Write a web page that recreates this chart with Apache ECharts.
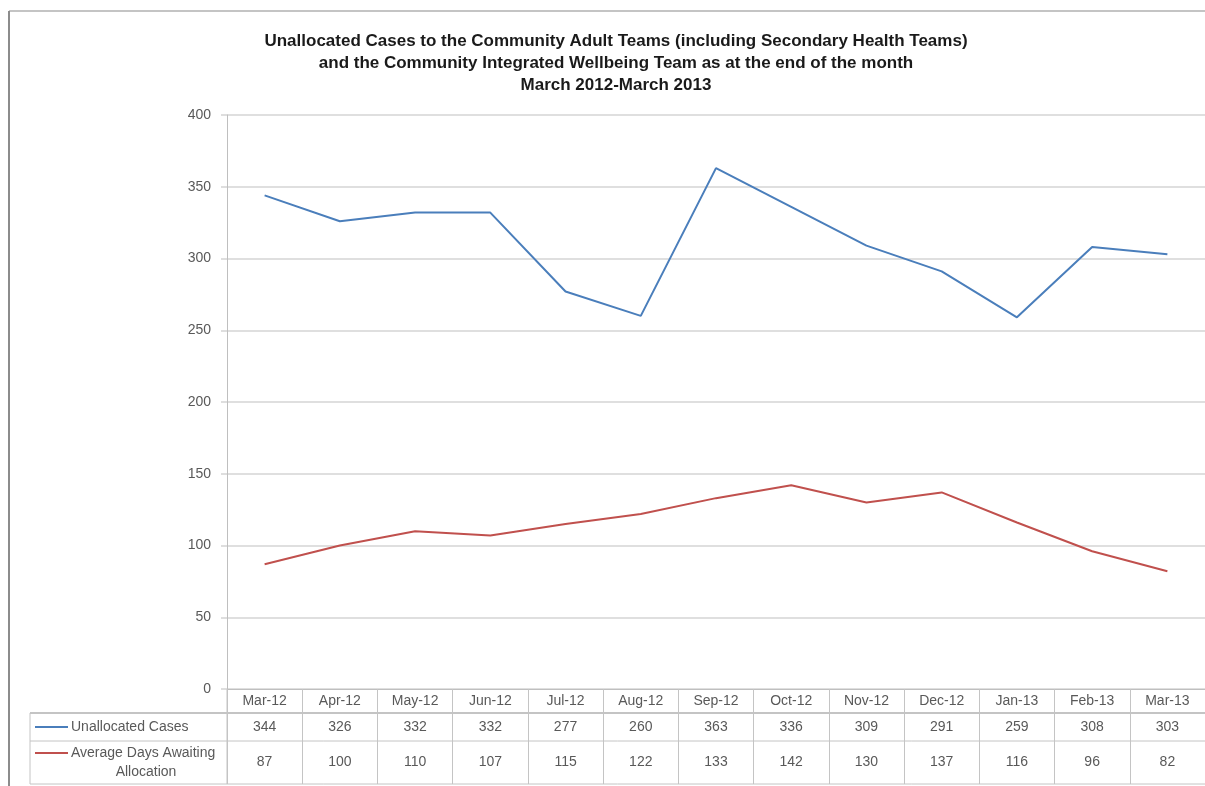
<!DOCTYPE html>
<html>
<head>
<meta charset="utf-8">
<script src="https://cdn.jsdelivr.net/npm/echarts@6/dist/echarts.min.js"></script>
<style>
  html, body { margin: 0; padding: 0; background: #ffffff; }
  #chart { width: 1205px; height: 786px; }
</style>
</head>
<body>
<div id="chart"></div>
<script>
// Monthly figures, March 2012 to March 2013
const months = ['Mar-12', 'Apr-12', 'May-12', 'Jun-12', 'Jul-12', 'Aug-12', 'Sep-12',
                'Oct-12', 'Nov-12', 'Dec-12', 'Jan-13', 'Feb-13', 'Mar-13'];
const unallocatedCases = [344, 326, 332, 332, 277, 260, 363, 336, 309, 291, 259, 308, 303];
const avgDaysAwaiting = [87, 100, 110, 107, 115, 122, 133, 142, 130, 137, 116, 96, 82];
const seriesNames = ['Unallocated Cases', 'Average Days Awaiting Allocation'];
const valueAxisTicks = [0, 50, 100, 150, 200, 250, 300, 350, 400];
const titleLines = [
  'Unallocated Cases to the Community Adult Teams (including Secondary Health Teams)',
  'and the Community Integrated Wellbeing Team as at the end of the month',
  'March 2012-March 2013'
];

const FONT = '"Liberation Sans", Arial, sans-serif';
const BLUE = '#4a7ebb';
const RED = '#c0504d';
const GRID_GREY = '#d4d4d4';
const TABLE_GREY = '#c4c4c4';
const TEXT_GREY = '#595959';

// heights of the data-table rows under the category axis
const ROW_HEAD = 24, ROW_ONE = 28, ROW_TWO = 43;
const TABLE_LEFT = 30;

const chart = echarts.init(document.getElementById('chart'), null, { renderer: 'canvas' });

chart.setOption({
  animation: false,
  backgroundColor: '#ffffff',
  title: {
    text: titleLines.join('\n'),
    left: 611,
    top: 25,
    textAlign: 'center',
    textStyle: {
      fontFamily: FONT,
      fontSize: 17,
      fontWeight: 'bold',
      color: '#1a1a1a',
      lineHeight: 22
    }
  },
  grid: { left: 227, top: 115, right: -9, bottom: 97, containLabel: false },
  xAxis: {
    type: 'category',
    data: months,
    boundaryGap: true,
    axisLine: { show: true, lineStyle: { color: '#bfbfbf', width: 1 } },
    axisTick: {
      show: true,
      inside: false,
      length: ROW_HEAD + ROW_ONE + ROW_TWO,
      interval: 0,
      lineStyle: { color: TABLE_GREY, width: 1 }
    },
    axisLabel: {
      interval: 0,
      margin: 0,
      fontFamily: FONT,
      color: TEXT_GREY,
      formatter: function (value, idx) {
        return '{c|' + value + '}\n{a|' + unallocatedCases[idx] + '}\n{b|' + avgDaysAwaiting[idx] + '}';
      },
      rich: {
        c: { fontFamily: FONT, fontSize: 14, color: TEXT_GREY, lineHeight: ROW_HEAD },
        a: { fontFamily: FONT, fontSize: 14, color: TEXT_GREY, lineHeight: ROW_ONE },
        b: { fontFamily: FONT, fontSize: 14, color: TEXT_GREY, lineHeight: ROW_TWO }
      }
    },
    splitLine: { show: false }
  },
  yAxis: {
    type: 'value',
    min: valueAxisTicks[0],
    max: valueAxisTicks[valueAxisTicks.length - 1],
    interval: valueAxisTicks[1] - valueAxisTicks[0],
    axisLine: { show: true, lineStyle: { color: '#bfbfbf', width: 1 } },
    axisTick: { show: true, length: 6, lineStyle: { color: GRID_GREY, width: 1.5 } },
    axisLabel: { margin: 16, fontFamily: FONT, fontSize: 14, color: TEXT_GREY },
    splitLine: { show: true, lineStyle: { color: GRID_GREY, width: 1.5 } }
  },
  series: [
    {
      name: seriesNames[0],
      type: 'line',
      data: unallocatedCases,
      symbol: 'none',
      lineStyle: { color: BLUE, width: 2 },
      itemStyle: { color: BLUE }
    },
    {
      name: seriesNames[1],
      type: 'line',
      data: avgDaysAwaiting,
      symbol: 'none',
      lineStyle: { color: RED, width: 2 },
      itemStyle: { color: RED }
    }
  ]
});

// Table frame, row headers and the outer border, placed from the axes' own pixel scale
function drawTableDecor() {
  const y0 = chart.convertToPixel({ yAxisIndex: 0 }, 0);
  const xFirst = chart.convertToPixel({ xAxisIndex: 0 }, months[0]);
  const xSecond = chart.convertToPixel({ xAxisIndex: 0 }, months[1]);
  const band = xSecond - xFirst;
  const xLeftAxis = xFirst - band / 2;
  const xRight = chart.convertToPixel({ xAxisIndex: 0 }, months[months.length - 1]) + band / 2;

  const yRow1 = y0 + ROW_HEAD;
  const yRow2 = yRow1 + ROW_ONE;
  const yEnd = yRow2 + ROW_TWO;
  const hline = (y, w) => ({
    type: 'line', silent: true,
    shape: { x1: TABLE_LEFT, y1: y, x2: xRight, y2: y },
    style: { stroke: TABLE_GREY, lineWidth: w || 1 }
  });

  const keyX1 = TABLE_LEFT + 5, keyX2 = TABLE_LEFT + 38, labelX = TABLE_LEFT + 41;
  const row1Mid = yRow1 + ROW_ONE / 2;
  const row2Top = yRow2 + 12;
  const labelStyle = { fontFamily: FONT, fontSize: 14, fill: TEXT_GREY };

  chart.setOption({
    graphic: [
      // outer border
      { type: 'line', silent: true, shape: { x1: 9, y1: 11, x2: 1205, y2: 11 }, style: { stroke: '#b0b0b0', lineWidth: 1.5 } },
      { type: 'line', silent: true, shape: { x1: 9, y1: 11, x2: 9, y2: 786 }, style: { stroke: '#8c8c8c', lineWidth: 2 } },
      // table rules
      hline(yRow1, 2),
      hline(yRow2, 1),
      hline(yEnd, 1),
      { type: 'line', silent: true, shape: { x1: TABLE_LEFT, y1: yRow1, x2: TABLE_LEFT, y2: yEnd }, style: { stroke: TABLE_GREY, lineWidth: 1 } },
      { type: 'line', silent: true, shape: { x1: xLeftAxis, y1: y0, x2: xLeftAxis, y2: yEnd }, style: { stroke: TABLE_GREY, lineWidth: 1 } },
      // row headers with series keys
      { type: 'line', silent: true, shape: { x1: keyX1, y1: row1Mid, x2: keyX2, y2: row1Mid }, style: { stroke: BLUE, lineWidth: 2 } },
      { type: 'text', silent: true, x: labelX, y: row1Mid, style: Object.assign({ text: seriesNames[0], verticalAlign: 'middle', align: 'left' }, labelStyle) },
      { type: 'line', silent: true, shape: { x1: keyX1, y1: row2Top, x2: keyX2, y2: row2Top }, style: { stroke: RED, lineWidth: 2 } },
      { type: 'text', silent: true, x: labelX, y: row2Top, style: Object.assign({ text: 'Average Days Awaiting', verticalAlign: 'middle', align: 'left' }, labelStyle) },
      { type: 'text', silent: true, x: labelX + 75, y: row2Top + 19, style: Object.assign({ text: 'Allocation', verticalAlign: 'middle', align: 'center' }, labelStyle) }
    ]
  });
}
drawTableDecor();
</script>
</body>
</html>
